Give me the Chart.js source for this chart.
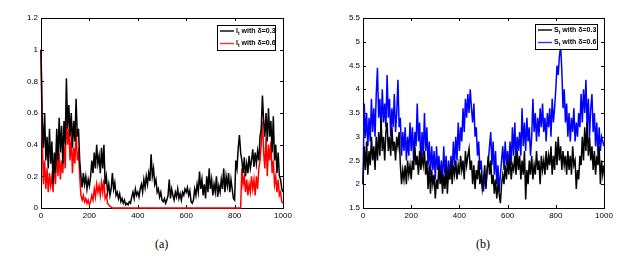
<!DOCTYPE html>
<html>
<head>
<meta charset="utf-8">
<script src="https://cdn.jsdelivr.net/npm/chart.js@4.4.0/dist/chart.umd.min.js"></script>
<style>
  body { margin: 0; background: #fff; width: 639px; height: 265px; position: relative; overflow: hidden; }
  .panel { position: absolute; top: 0; width: 300px; height: 230px; }
  .cap { position: absolute; top: 237px; font: 12px "Liberation Serif", "Times New Roman", serif; color: #000; }
</style>
</head>
<body>
<div class="panel" style="left:0"><canvas id="chartA"></canvas></div>
<div class="panel" style="left:320px"><canvas id="chartB"></canvas></div>
<div class="cap" style="left:155px">(a)</div>
<div class="cap" style="left:476px">(b)</div>
<script>
// sampling grid: every 5 time steps from 0 to 1000
const STEP = 5;
const times = Array.from({ length: 201 }, (_, i) => i * STEP);

const ticksX = [0, 200, 400, 600, 800, 1000];
const ticksIY = [0, 0.2, 0.4, 0.6, 0.8, 1, 1.2];
const ticksSY = [1.5, 2, 2.5, 3, 3.5, 4, 4.5, 5, 5.5];

// I_t, delta = 0.3 (black, panel a)
const infected03 = [
  1.0, 0.55, 0.38, 0.6, 0.3, 0.45, 0.25, 0.5, 0.28, 0.42,
  0.15, 0.35, 0.22, 0.5, 0.3, 0.57, 0.35, 0.52, 0.28, 0.55,
  0.4, 0.82, 0.5, 0.65, 0.45, 0.6, 0.38, 0.55, 0.42, 0.69,
  0.45, 0.5, 0.3, 0.2, 0.13, 0.22, 0.15, 0.2, 0.12, 0.18,
  0.14, 0.2, 0.3, 0.22, 0.35, 0.25, 0.4, 0.28, 0.33, 0.22,
  0.38, 0.25, 0.4, 0.15, 0.2, 0.1, 0.15, 0.08, 0.12, 0.22,
  0.12, 0.16, 0.08, 0.1, 0.06, 0.09, 0.04, 0.06, 0.03, 0.05,
  0.02, 0.03, 0.02, 0.04, 0.03, 0.07, 0.1, 0.06, 0.12, 0.08,
  0.1, 0.07, 0.12, 0.15, 0.1, 0.18, 0.13, 0.2, 0.15, 0.22,
  0.17, 0.34, 0.2, 0.25, 0.15, 0.18, 0.1, 0.12, 0.07, 0.1,
  0.05, 0.04, 0.06, 0.03, 0.05, 0.08, 0.18, 0.06, 0.12, 0.08,
  0.05, 0.1, 0.07, 0.12, 0.06, 0.09, 0.05, 0.1, 0.08, 0.12,
  0.1, 0.13, 0.08, 0.11, 0.04, 0.03, 0.05, 0.12, 0.08, 0.15,
  0.1, 0.23, 0.12, 0.18, 0.08, 0.15, 0.06, 0.2, 0.1, 0.25,
  0.12, 0.18, 0.08, 0.15, 0.1, 0.2, 0.07, 0.14, 0.1, 0.18,
  0.12, 0.25, 0.1, 0.2, 0.14, 0.22, 0.1, 0.18, 0.12, 0.06,
  0.05, 0.3, 0.25, 0.38, 0.46, 0.35, 0.3, 0.22, 0.32, 0.2,
  0.28, 0.22, 0.33, 0.25, 0.3, 0.37, 0.26, 0.35, 0.28, 0.36,
  0.3, 0.45, 0.5, 0.71, 0.55, 0.45, 0.6, 0.42, 0.63, 0.45,
  0.55, 0.35, 0.58, 0.3, 0.4, 0.22, 0.35, 0.2, 0.18, 0.12,
  0.1
];

// I_t, delta = 0.6 (red, panel a)
const infected06 = [
  1.0, 0.45, 0.15, 0.3, 0.12, 0.25, 0.1, 0.22, 0.14, 0.2,
  0.1, 0.3, 0.15, 0.43, 0.2, 0.35, 0.18, 0.3, 0.22, 0.4,
  0.25, 0.6, 0.4, 0.5, 0.3, 0.45, 0.22, 0.38, 0.28, 0.5,
  0.3, 0.35, 0.2, 0.08, 0.05, 0.08, 0.04, 0.06, 0.03, 0.05,
  0.02, 0.04, 0.08, 0.05, 0.12, 0.07, 0.15, 0.1, 0.14, 0.08,
  0.16, 0.1, 0.18, 0.06, 0.08, 0.03, 0.02, 0.01, 0.005, 0,
  0, 0, 0, 0, 0, 0, 0, 0, 0, 0,
  0, 0, 0, 0, 0, 0, 0, 0, 0, 0,
  0, 0, 0, 0, 0, 0, 0, 0, 0, 0,
  0, 0, 0, 0, 0, 0, 0, 0, 0, 0,
  0, 0, 0, 0, 0, 0, 0, 0, 0, 0,
  0, 0, 0, 0, 0, 0, 0, 0, 0, 0,
  0, 0, 0, 0, 0, 0, 0, 0, 0, 0,
  0, 0, 0, 0, 0, 0, 0, 0, 0, 0,
  0, 0, 0, 0, 0, 0, 0, 0, 0, 0,
  0, 0, 0, 0, 0, 0, 0, 0, 0, 0,
  0, 0, 0, 0, 0, 0, 0.25, 0.15, 0.2, 0.1,
  0.18, 0.08, 0.15, 0.1, 0.2, 0.12, 0.18, 0.08, 0.2, 0.12,
  0.25, 0.3, 0.4, 0.55, 0.35, 0.25, 0.45, 0.2, 0.4, 0.3,
  0.42, 0.22, 0.3, 0.15, 0.2, 0.1, 0.18, 0.08, 0.1, 0.04,
  0.03
];

// S_t, delta = 0.3 (black, panel b)
const suscept03 = [
  2.0, 2.8, 2.3, 2.9, 2.2, 2.7, 2.4, 3.0, 2.5, 2.8,
  2.3, 3.0, 2.5, 3.1, 2.6, 3.35, 2.7, 3.0, 2.5, 3.1,
  3.3, 2.7, 3.0, 2.6, 3.2, 2.7, 2.9, 2.5, 3.0, 2.8,
  3.1, 2.4, 2.0, 2.3, 2.1, 2.4, 2.0, 2.5, 2.2, 2.4,
  2.1, 2.5, 2.3, 2.8, 2.4, 2.6, 2.2, 2.7, 2.3, 2.6,
  2.4, 2.7, 2.2, 2.5, 1.9, 2.4, 1.8, 2.3, 2.0, 2.2,
  1.7, 2.1, 1.9, 2.4, 2.0, 2.3, 1.8, 2.2, 1.9, 2.4,
  1.8, 2.3, 2.1, 2.5, 2.0, 2.4, 2.2, 2.5, 2.1, 2.4,
  2.2, 2.6, 2.3, 2.5, 2.1, 2.7, 2.4, 2.6, 2.75, 2.3,
  2.5, 2.0, 2.4, 1.9, 2.3, 2.1, 2.5, 2.0, 2.2, 1.9,
  2.1, 2.4, 1.9, 2.3, 2.6, 2.2, 2.5, 2.0, 2.2, 1.8,
  2.1, 1.7, 2.0, 1.8, 1.6, 2.0, 2.2, 2.0, 2.4, 2.1,
  2.5, 2.2, 2.6, 2.1, 2.4, 2.3, 2.6, 2.2, 2.7, 2.3,
  2.6, 2.1, 2.5, 2.2, 2.7, 1.68, 2.3, 2.0, 2.5, 2.2,
  2.6, 2.1, 2.4, 2.2, 2.7, 2.3, 2.5, 2.0, 2.6, 2.3,
  2.5, 2.2, 2.7, 2.3, 2.6, 2.4, 2.8, 2.2, 2.6, 2.3,
  2.9, 2.4, 3.0, 2.5, 2.8, 2.3, 2.7, 2.4, 2.6, 2.2,
  2.7, 2.3, 2.6, 2.2, 2.8, 2.4, 2.5, 1.9, 2.3, 2.1,
  2.6, 2.4, 3.0, 2.5, 3.2, 2.7, 3.3, 2.6, 3.0, 2.5,
  2.8, 2.3, 2.7, 2.2, 2.6, 2.4, 2.8, 2.0, 2.5, 2.2,
  2.4
];

// S_t, delta = 0.6 (blue, panel b)
const suscept06 = [
  2.0, 3.7, 3.0, 3.5, 2.8, 3.4, 2.9, 3.8, 3.1, 3.6,
  3.0, 3.9, 4.45, 3.4, 3.8, 3.1, 4.0, 3.3, 3.7, 3.2,
  4.3, 3.4, 3.8, 3.0, 3.6, 3.2, 3.9, 3.1, 3.5, 4.2,
  3.2, 3.4, 2.6, 3.1, 2.7, 3.2, 2.5, 3.0, 2.6, 3.3,
  2.7, 3.2, 2.5, 3.1, 2.8, 3.7, 2.9, 3.3, 2.4, 3.1,
  2.6, 3.5, 2.7, 3.2, 2.4, 2.9, 2.2, 2.8, 2.3, 2.7,
  2.1, 2.8, 2.3, 2.6, 2.1, 2.5, 2.0, 2.8, 2.2, 2.6,
  2.0, 2.5, 2.1, 2.6, 2.2, 2.9, 2.4, 3.0, 2.5, 3.3,
  2.7, 3.2, 2.9, 3.6, 3.1, 3.8, 3.4, 3.9, 3.5, 4.0,
  3.6, 3.3, 3.7, 3.0, 3.2, 2.6, 2.9, 2.3, 2.5, 2.1,
  1.85, 2.2, 1.95, 2.3, 2.5, 2.8, 3.1, 2.4, 2.9, 2.2,
  2.7, 2.0, 2.4, 1.85, 2.2, 2.5, 2.8, 2.3, 2.9, 2.4,
  2.7, 2.3, 2.9, 2.4, 3.2, 2.6, 3.3, 2.5, 3.0, 2.7,
  3.1, 2.6, 3.6, 2.8, 3.3, 2.7, 3.4, 2.9, 3.2, 2.6,
  3.0, 3.8, 3.1, 3.5, 2.9, 3.4, 3.0, 3.6, 3.2, 3.7,
  3.1, 3.4, 2.9, 3.5, 3.2, 3.6, 3.0, 3.8, 3.3, 3.6,
  4.0, 4.5, 4.3, 4.7, 4.9, 4.4, 3.6, 4.0, 3.3, 3.7,
  3.0, 3.5, 2.9, 3.4, 3.1, 3.6, 2.9, 3.3, 3.0, 3.5,
  3.2, 3.9, 3.3, 4.0, 3.5, 4.2, 3.2, 3.8, 3.0, 3.6,
  3.9, 3.1, 3.5, 2.8, 3.3, 2.6, 3.2, 2.7, 3.0, 2.9,
  2.8
];

const tickFont = { family: 'Arial, "Liberation Sans", sans-serif', size: 8 };

function toPoints(values) {
  return times.map((t, i) => ({ x: t, y: values[i] }));
}

// plain tick text, no thousands separator or forced decimals
const plainTick = (v) => String(Math.round(v * 100) / 100);

// matlab style frame with inward ticks on all four sides
const framePlugin = {
  id: "frame",
  beforeDatasetsDraw(chart) {
    const { ctx, chartArea: a, scales } = chart;
    ctx.save();
    ctx.strokeStyle = "#000";
    ctx.lineWidth = 1;
    ctx.strokeRect(Math.round(a.left) + 0.5, Math.round(a.top) + 0.5,
      Math.round(a.width), Math.round(a.height));
    ctx.beginPath();
    scales.x.ticks.forEach((t) => {
      const px = Math.round(scales.x.getPixelForValue(t.value)) + 0.5;
      ctx.moveTo(px, a.bottom); ctx.lineTo(px, a.bottom - 3);
      ctx.moveTo(px, a.top); ctx.lineTo(px, a.top + 3);
    });
    scales.y.ticks.forEach((t) => {
      const py = Math.round(scales.y.getPixelForValue(t.value)) + 0.5;
      ctx.moveTo(a.left, py); ctx.lineTo(a.left + 3, py);
      ctx.moveTo(a.right, py); ctx.lineTo(a.right - 3, py);
    });
    ctx.stroke();
    ctx.restore();
  },
};

function legendPlugin(items, boxW, gapRight, gapTop) {
  return {
    id: "boxLegend",
    afterDatasetsDraw(chart) {
      const { ctx, chartArea: a } = chart;
      const h = 25;
      const x0 = Math.round(a.right - gapRight - boxW);
      const y0 = Math.round(a.top + gapTop);
      ctx.save();
      ctx.fillStyle = "#fff";
      ctx.fillRect(x0, y0, boxW, h);
      ctx.strokeStyle = "#000";
      ctx.lineWidth = 1;
      ctx.strokeRect(x0 + 0.5, y0 + 0.5, boxW, h);
      items.forEach((it, i) => {
        const y = y0 + 6 + i * 12.5;
        ctx.strokeStyle = it.color;
        ctx.lineWidth = 1.4;
        ctx.beginPath();
        ctx.moveTo(x0 + 3, y);
        ctx.lineTo(x0 + 17, y);
        ctx.stroke();
        ctx.fillStyle = "#000";
        ctx.textBaseline = "middle";
        let tx = x0 + 19;
        ctx.font = 'bold 7px Arial, "Liberation Sans", sans-serif';
        ctx.fillText(it.main, tx, y);
        tx += ctx.measureText(it.main).width;
        ctx.font = 'bold 5px Arial, "Liberation Sans", sans-serif';
        ctx.fillText(it.sub, tx, y + 2.5);
        tx += ctx.measureText(it.sub).width;
        ctx.font = 'bold 7px Arial, "Liberation Sans", sans-serif';
        ctx.fillText(" " + it.rest, tx, y);
      });
      ctx.restore();
    },
  };
}

function makeChart(id, series, yTicks, yMin, yMax, yWidth, padRight, padTop, legend) {
  return new Chart(document.getElementById(id), {
    type: "line",
    data: {
      datasets: series.map((s) => ({
        data: toPoints(s.values),
        borderColor: s.color,
        borderWidth: 1.5,
        pointRadius: 0,
        tension: 0,
        clip: 2,
      })),
    },
    options: {
      responsive: true,
      maintainAspectRatio: false,
      animation: false,
      layout: { padding: { top: padTop, right: padRight, left: 0, bottom: 0 } },
      plugins: { legend: { display: false }, tooltip: { enabled: false } },
      scales: {
        x: {
          type: "linear",
          min: 0,
          max: 1000,
          afterBuildTicks: (sc) => { sc.ticks = ticksX.map((v) => ({ value: v })); },
          afterFit: (sc) => { sc.height = 22; },
          grid: { drawOnChartArea: false, drawTicks: false },
          border: { display: false },
          ticks: { font: tickFont, color: "#000", padding: 3, maxRotation: 0, callback: plainTick },
        },
        y: {
          min: yMin,
          max: yMax,
          afterBuildTicks: (sc) => { sc.ticks = yTicks.map((v) => ({ value: v })); },
          afterFit: (sc) => { sc.width = yWidth; },
          grid: { drawOnChartArea: false, drawTicks: false },
          border: { display: false },
          ticks: { font: tickFont, color: "#000", padding: 3, callback: plainTick },
        },
      },
    },
    plugins: [framePlugin, legend],
  });
}

makeChart("chartA",
  [
    { values: infected03, color: "#000000" },
    { values: infected06, color: "#ff0000" },
  ],
  ticksIY, 0, 1.2, 41, 17, 18,
  legendPlugin([
    { main: "I", sub: "t", rest: "with \u03b4=0.3", color: "#000000" },
    { main: "I", sub: "t", rest: "with \u03b4=0.6", color: "#ff3030" },
  ], 58, 8, 7));

makeChart("chartB",
  [
    { values: suscept03, color: "#000000" },
    { values: suscept06, color: "#0000ff" },
  ],
  ticksSY, 1.5, 5.5, 43, 16, 18,
  legendPlugin([
    { main: "S", sub: "t", rest: "with \u03b4=0.3", color: "#000000" },
    { main: "S", sub: "t", rest: "with \u03b4=0.6", color: "#3030ff" },
  ], 62, 7, 6));
</script>
</body>
</html>
